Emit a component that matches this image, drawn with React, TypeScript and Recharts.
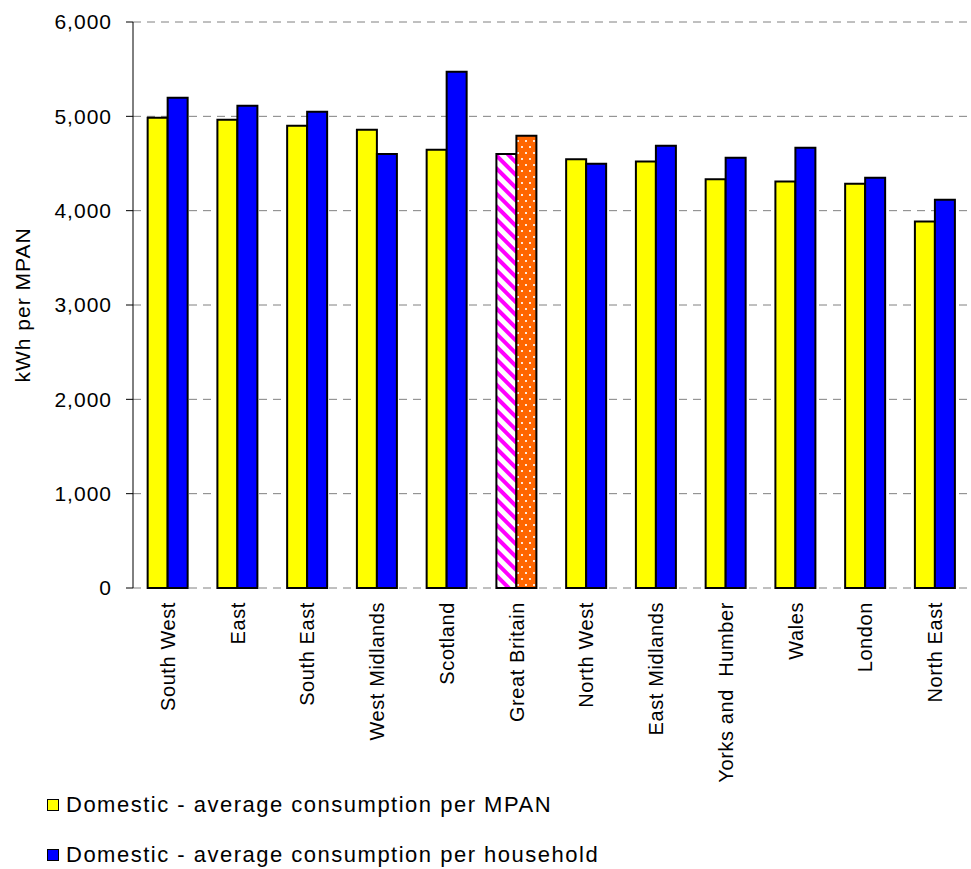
import React from 'react';
import { BarChart, Bar, XAxis, YAxis, CartesianGrid, Legend, Cell } from 'recharts';

const regions = [
  'South West', 'East', 'South East', 'West Midlands', 'Scotland', 'Great Britain',
  'North West', 'East Midlands', 'Yorks and  Humber', 'Wales', 'London', 'North East',
];
const perMpan = [4985, 4965, 4900, 4858, 4647, 4601, 4544, 4520, 4332, 4308, 4286, 3884];
const perHousehold = [5198, 5113, 5049, 4601, 5473, 4795, 4498, 4689, 4562, 4668, 4350, 4117];
const yTicks = [0, 1000, 2000, 3000, 4000, 5000, 6000];
const edgeTicks = [0, 1, 2, 3, 4, 5, 6, 7, 8, 9, 10, 11, 12];
const seriesNames = ['Domestic - average consumption per MPAN', 'Domestic - average consumption per household'];
const seriesColors = ['#FFFF00', '#0000FF'];

const data = regions.map((region, i) => ({ region, mpan: perMpan[i], household: perHousehold[i] }));

const font = '"Liberation Sans", Arial, sans-serif';

const RegionTick = (props: any) => {
  const { x, y, payload } = props;
  return (
    <text
      x={x}
      y={y + 14}
      transform={`rotate(-90, ${x}, ${y + 14})`}
      textAnchor="end"
      dominantBaseline="central"
      fontFamily={font}
      fontSize={20}
      letterSpacing={0.6}
      fill="#000"
      style={{ whiteSpace: 'pre' }}
    >
      {payload.value}
    </text>
  );
};

const YLabel = (props: any) => {
  const { viewBox } = props;
  const cx = viewBox.x + 22;
  const cy = viewBox.y + viewBox.height / 2;
  return (
    <text
      x={cx}
      y={cy}
      transform={`rotate(-90, ${cx}, ${cy})`}
      textAnchor="middle"
      dominantBaseline="central"
      fontFamily={font}
      fontSize={21}
      letterSpacing={1}
      fill="#000"
    >
      kWh per MPAN
    </text>
  );
};

const LegendBox = () => (
  <div style={{ fontFamily: font, fontSize: 22, letterSpacing: 1.5, color: '#000' }}>
    {seriesNames.map((name, i) => (
      <div key={name} style={{ display: 'flex', alignItems: 'center', height: 50 }}>
        <span
          style={{
            display: 'inline-block',
            width: 10,
            height: 10,
            background: seriesColors[i],
            border: '1.5px solid #000',
            marginRight: 7,
          }}
        />
        {name}
      </div>
    ))}
  </div>
);

export default function App() {
  return (
    <div style={{ position: 'absolute', left: 0, top: 0, background: '#fff' }}>
      <BarChart
        width={971}
        height={869}
        data={data}
        margin={{ top: 22, right: 1, left: 0, bottom: 81 }}
        barCategoryGap="21%"
        barGap={0}
      >
        <defs>
          <pattern id="gbStripes" width="9" height="9" patternUnits="userSpaceOnUse" patternTransform="rotate(45)">
            <rect width="9" height="9" fill="#fff" />
            <rect width="9" height="4" fill="#FF00FF" />
          </pattern>
          <pattern id="gbDots" width="8" height="12" patternUnits="userSpaceOnUse">
            <rect width="8" height="12" fill="#FF6600" />
            <rect x="1" y="2" width="2" height="2" fill="#FFE8D8" />
            <rect x="5" y="8" width="2" height="2" fill="#FFE8D8" />
          </pattern>
        </defs>
        <CartesianGrid vertical={false} stroke="#808080" strokeDasharray="8 6" />
        <XAxis
          xAxisId="edges"
          type="number"
          domain={[0, 12]}
          ticks={edgeTicks}
          height={0}
          tickSize={7}
          tickFormatter={() => ''}
          axisLine={{ stroke: '#000' }}
          tickLine={{ stroke: '#000' }}
        />
        <XAxis
          xAxisId="cat"
          dataKey="region"
          height={200}
          axisLine={false}
          tickLine={false}
          tickSize={0}
          tickMargin={0}
          interval={0}
          tick={<RegionTick />}
        />
        <YAxis
          width={133}
          domain={[0, 6000]}
          ticks={yTicks}
          interval={0}
          tickSize={7}
          tickMargin={14}
          axisLine={{ stroke: '#000' }}
          tickLine={{ stroke: '#000' }}
          tickFormatter={(v: number) => v.toLocaleString('en-GB')}
          tick={{ fill: '#000', fontSize: 21, fontFamily: font, letterSpacing: 1 }}
          label={<YLabel />}
        />
        <Bar xAxisId="cat" dataKey="mpan" fill={seriesColors[0]} stroke="#000" strokeWidth={2} isAnimationActive={false}>
          {data.map((d) => (
            <Cell key={d.region} fill={d.region === 'Great Britain' ? 'url(#gbStripes)' : seriesColors[0]} />
          ))}
        </Bar>
        <Bar xAxisId="cat" dataKey="household" fill={seriesColors[1]} stroke="#000" strokeWidth={2} isAnimationActive={false}>
          {data.map((d) => (
            <Cell key={d.region} fill={d.region === 'Great Britain' ? 'url(#gbDots)' : seriesColors[1]} />
          ))}
        </Bar>
        <Legend
          layout="vertical"
          align="center"
          verticalAlign="middle"
          wrapperStyle={{ left: 47, top: 780, width: 'auto' }}
          content={<LegendBox />}
        />
      </BarChart>
    </div>
  );
}
